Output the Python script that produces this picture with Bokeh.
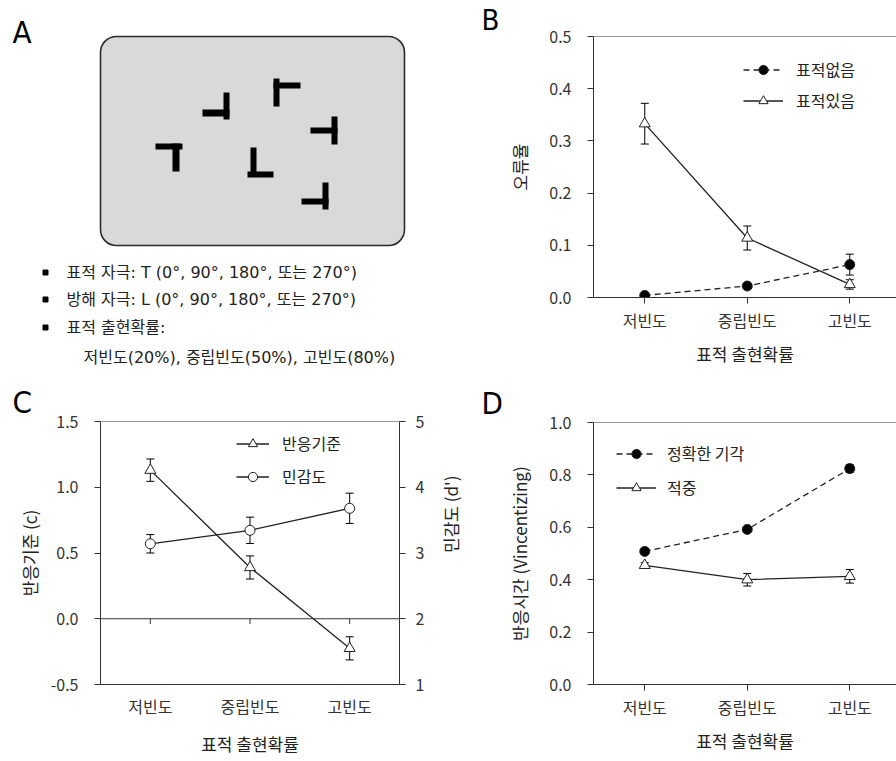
import math
from bokeh.plotting import figure
from bokeh.models import (Range1d, LinearAxis, FixedTicker, Whisker, TeeHead, ColumnDataSource,
                          Legend, LegendItem, Label, Span, NumeralTickFormatter)
from bokeh.layouts import row, column
from bokeh.embed import file_html
from bokeh.resources import INLINE
from bokeh.core.properties import value

# ---------------- data ----------------
categories = ["저빈도", "중립빈도", "고빈도"]
x_axis_title = "표적 출현확률"

# Panel B: error rate
b_absent = [0.004, 0.022, 0.063]
b_absent_err = [0.002, 0.003, 0.020]
b_present = [0.333, 0.114, 0.025]
b_present_err = [0.039, 0.023, 0.009]
b_labels = ["표적없음", "표적있음"]
b_ticks = [0.0, 0.1, 0.2, 0.3, 0.4, 0.5]

# Panel C: criterion (left) and sensitivity (right)
c_crit = [1.13, 0.39, -0.225]
c_crit_err = [0.085, 0.088, 0.088]
c_dprime = [3.14, 3.345, 3.68]
c_dprime_err = [0.14, 0.20, 0.23]
c_labels = ["반응기준", "민감도"]
c_left_ticks = [-0.5, 0.0, 0.5, 1.0, 1.5]
c_right_ticks = [1, 2, 3, 4, 5]

# Panel D: response time
d_cr = [0.508, 0.592, 0.824]
d_cr_err = [0.008, 0.008, 0.015]
d_hit = [0.455, 0.400, 0.413]
d_hit_err = [0.010, 0.024, 0.026]
d_labels = ["정확한 기각", "적중"]
d_ticks = [0.0, 0.2, 0.4, 0.6, 0.8, 1.0]

# Panel A: stimulus display (bars of the T / L items, in display pixels: left, right, top, bottom)
stim_left = [202, 223, 273, 273, 310, 331, 155, 172, 250, 247, 301, 322]
stim_right = [229, 229, 279, 300, 337, 337, 182, 179, 256, 273, 328, 328]
stim_top = [109, 92, 78, 82, 127, 116, 143, 143, 147, 171, 198, 182]
stim_bottom = [116, 119, 106, 88, 133, 144, 149, 171, 176, 177, 204, 209]
a_lines = ["표적 자극:  T (0°, 90°, 180°, 또는 270°)",
           "방해 자극:  L (0°, 90°, 180°, 또는 270°)",
           "표적 출현확률:",
           "저빈도(20%), 중립빈도(50%), 고빈도(80%)"]

# ---------------- style ----------------
FONT = "Noto Sans CJK KR"
A_FONT = "'DejaVu Sans', 'Noto Sans CJK KR', sans-serif"
LETTER_FONT = "'Liberation Sans Narrow', 'DejaVu Sans Condensed', 'Liberation Sans', sans-serif"
AX = "#333333"
LINE = "#222222"
xs = list(range(len(categories)))


def no_align(p):
    try:
        p.frame_align = False
    except Exception:
        pass


def base_fig(w, h, xr, yr, ml, mr, mt, mb):
    p = figure(width=w, height=h, x_range=xr, y_range=yr, output_backend="svg",
               toolbar_location=None, min_border_left=ml, min_border_right=mr,
               min_border_top=mt, min_border_bottom=mb, outline_line_color=None,
               background_fill_color="white", border_fill_color="white")
    p.xgrid.visible = False
    p.ygrid.visible = False
    no_align(p)
    return p


def style_axis(ax, tick_out=6, label_standoff=16, title_standoff=14):
    ax.axis_line_color = AX
    ax.axis_line_width = 1
    ax.major_tick_line_color = AX
    ax.major_tick_out = tick_out
    ax.major_tick_in = 0
    ax.minor_tick_line_color = None
    ax.major_label_text_font = FONT
    ax.major_label_text_font_size = "16px"
    ax.major_label_text_color = AX
    ax.major_label_standoff = label_standoff
    ax.axis_label_text_font = FONT
    ax.axis_label_text_font_size = "17px"
    ax.axis_label_text_font_style = "normal"
    ax.axis_label_text_color = "#222222"
    ax.axis_label_standoff = title_standoff


def style_x(p, tick_out=6, standoff=4, title_standoff=6):
    ax = p.xaxis[0]
    ax.ticker = FixedTicker(ticks=xs)
    ax.major_label_overrides = {i: c for i, c in zip(xs, categories)}
    ax.axis_label = x_axis_title
    style_axis(ax, tick_out=tick_out, label_standoff=standoff, title_standoff=title_standoff)


def whisker(p, vals, errs, y_range_name="default"):
    src = ColumnDataSource(dict(x=xs, upper=[v + e for v, e in zip(vals, errs)],
                                lower=[v - e for v, e in zip(vals, errs)]))
    w = Whisker(source=src, base="x", upper="upper", lower="lower", line_color="black",
                line_width=1, y_range_name=y_range_name,
                upper_head=TeeHead(size=8, line_color="black", line_width=1),
                lower_head=TeeHead(size=8, line_color="black", line_width=1))
    p.add_layout(w)


def series(p, vals, marker, fill, dash="solid", y_range_name="default", size=10):
    l = p.line(xs, vals, line_color=LINE, line_width=1.3, line_dash=dash, y_range_name=y_range_name)
    s = p.scatter(xs, vals, marker=marker, size=size, fill_color=fill, line_color=LINE,
                  line_width=1, y_range_name=y_range_name)
    return l, s


def legend(p, items, loc, glyph_w, spacing, standoff=13):
    lg = Legend(items=[LegendItem(label=t, renderers=r) for t, r in items], location=loc,
                orientation="vertical", glyph_width=glyph_w, glyph_height=23, label_height=23,
                label_standoff=standoff, spacing=spacing, padding=0, margin=0,
                border_line_color=None, background_fill_alpha=0,
                label_text_font=FONT, label_text_font_size="16px", label_text_color="#222222")
    p.add_layout(lg)


def letter_title(p, t, offset, standoff, size="31px"):
    p.title.text = t
    p.title.align = "left"
    p.title.offset = offset
    p.title.standoff = standoff
    p.title.text_font = LETTER_FONT
    p.title.text_font_size = size
    p.title.text_font_style = "normal"
    p.title.text_color = "black"


LEFT_W, RIGHT_W = 478, 418
TOP_H, BOT_H = 380, 381
R_BORDER = 593 - LEFT_W

# ---------------- Panel A ----------------
pa = figure(width=LEFT_W, height=TOP_H, x_range=Range1d(0, LEFT_W), y_range=Range1d(TOP_H, 0),
            output_backend="svg", toolbar_location=None, min_border=0, outline_line_color=None)
pa.min_border_left = pa.min_border_right = pa.min_border_top = pa.min_border_bottom = 0
pa.axis.visible = False
pa.xgrid.visible = False
pa.ygrid.visible = False
no_align(pa)
pa.quad(left=[100], right=[404], top=[36], bottom=[245], fill_color="#d9d9d9",
        line_color="#2a2a2a", line_width=1.6, border_radius=16)
pa.quad(left=stim_left, right=stim_right, top=stim_top, bottom=stim_bottom,
        fill_color="black", line_color=None)
line_y = [272, 299, 327, 357]
line_x = [66, 66, 66, 83]
pa.scatter(x=[45, 45, 45], y=line_y[:3], marker="square", size=5, fill_color="black", line_color="black")
pa.text(x=line_x, y=line_y, text=a_lines, text_font=value(A_FONT), text_font_size="16px",
        text_baseline="middle", text_color="#222222")
pa.add_layout(Label(x=12, y=31, text="A", text_font=LETTER_FONT, text_font_size="31px",
                    text_color="black", text_baseline="alphabetic"))

# ---------------- Panel B ----------------
pb = base_fig(RIGHT_W, TOP_H, Range1d(-0.5, 2.456), Range1d(0, 0.5), R_BORDER, 0, 36, 83)
letter_title(pb, "B", -112, 0, size="29px")
style_x(pb)
ya = pb.yaxis[0]
ya.ticker = FixedTicker(ticks=b_ticks)
ya.formatter = NumeralTickFormatter(format="0.0")
ya.axis_label = "오류율"
style_axis(ya)
pb.add_layout(Span(location=0.5, dimension="width", line_color=AX, line_width=1))
whisker(pb, b_absent, b_absent_err)
whisker(pb, b_present, b_present_err)
lb1, sb1 = series(pb, b_absent, "circle", "black", dash="6 4")
lb2, sb2 = series(pb, b_present, "triangle", "white", size=11)
legend(pb, [(b_labels[0], [lb1, sb1]), (b_labels[1], [lb2, sb2])], (150, 185), 40, 7)

# ---------------- Panel C ----------------
pc = base_fig(LEFT_W, BOT_H, Range1d(-0.5, 2.5), Range1d(-0.5, 1.5), 100, LEFT_W - 400, 41, 77)
letter_title(pc, "C", -88, 3)
pc.extra_y_ranges = {"d": Range1d(1, 5)}
style_x(pc, tick_out=0, standoff=9, title_standoff=10)
yc = pc.yaxis[0]
yc.ticker = FixedTicker(ticks=c_left_ticks)
yc.formatter = NumeralTickFormatter(format="0.0")
yc.axis_label = "반응기준 (c)"
style_axis(yc, title_standoff=6)
yr = LinearAxis(y_range_name="d", axis_label="민감도 (d')", ticker=FixedTicker(ticks=c_right_ticks))
style_axis(yr, label_standoff=10, title_standoff=23)
try:
    yr.axis_label_orientation = math.pi / 2
except Exception:
    pass
pc.add_layout(yr, "right")
pc.add_layout(Span(location=1.5, dimension="width", line_color=AX, line_width=1))
pc.add_layout(Span(location=0.0, dimension="width", line_color=AX, line_width=1))
pc.segment(x0=xs, y0=[0.0] * 3, x1=xs, y1=[-0.04] * 3, line_color=AX, line_width=1)
whisker(pc, c_crit, c_crit_err)
whisker(pc, c_dprime, c_dprime_err, y_range_name="d")
lc1, sc1 = series(pc, c_crit, "triangle", "white", size=11)
lc2, sc2 = series(pc, c_dprime, "circle", "white", y_range_name="d")
legend(pc, [(c_labels[0], [lc1, sc1]), (c_labels[1], [lc2, sc2])], (136, 196), 33, 9)

# ---------------- Panel D ----------------
pd_ = base_fig(RIGHT_W, BOT_H, Range1d(-0.5, 2.456), Range1d(0, 1.0), R_BORDER, 0, 42, 77)
letter_title(pd_, "D", -112, 4)
style_x(pd_)
yd = pd_.yaxis[0]
yd.ticker = FixedTicker(ticks=d_ticks)
yd.formatter = NumeralTickFormatter(format="0.0")
yd.axis_label = "반응시간 (Vincentizing)"
style_axis(yd)
pd_.add_layout(Span(location=1.0, dimension="width", line_color=AX, line_width=1))
whisker(pd_, d_cr, d_cr_err)
whisker(pd_, d_hit, d_hit_err)
ld1, sd1 = series(pd_, d_cr, "circle", "black", dash="6 4")
ld2, sd2 = series(pd_, d_hit, "triangle", "white", size=11)
legend(pd_, [(d_labels[0], [ld1, sd1]), (d_labels[1], [ld2, sd2])], (23, 185), 40, 10, standoff=11)

layout = row(column(pa, pc), column(pb, pd_))
open("out.html", "w").write(file_html(layout, INLINE))
